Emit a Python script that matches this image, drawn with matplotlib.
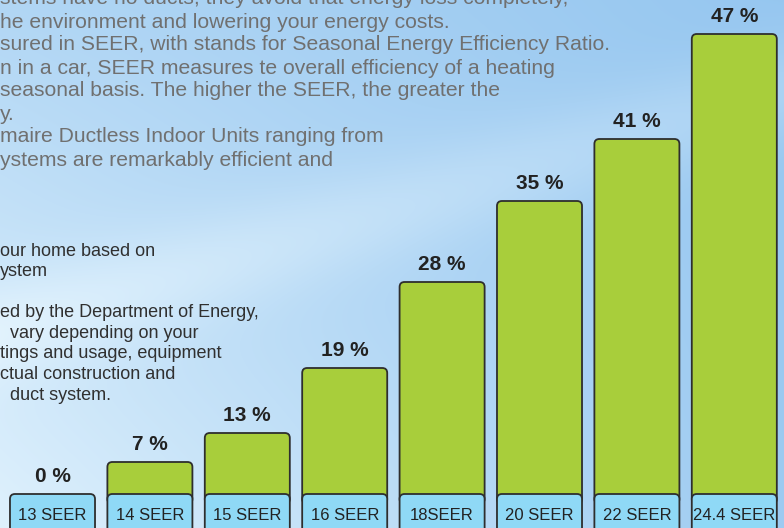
import numpy as np
import matplotlib
matplotlib.use("Agg")
import matplotlib.pyplot as plt
from matplotlib.patches import FancyBboxPatch

# ---- data ----
categories = ["13 SEER", "14 SEER", "15 SEER", "16 SEER", "18SEER", "20 SEER", "22 SEER", "24.4 SEER"]
savings_labels = ["0 %", "7 %", "13 %", "19 %", "28 %", "35 %", "41 %", "47 %"]
# drawn bar heights as they appear in the picture (graphic is not to scale)
bar_heights = [0.0, 3.2, 6.1, 12.6, 21.2, 29.3, 35.5, 46.0]

para1 = [
    "stems have no ducts, they avoid that energy loss completely,",
    "he environment and lowering your energy costs.",
    "sured in SEER, with stands for Seasonal Energy Efficiency Ratio.",
    "n in a car, SEER measures te overall efficiency of a heating",
    "seasonal basis. The higher the SEER, the greater the",
    "y.",
    "maire Ductless Indoor Units ranging from",
    "ystems are remarkably efficient and",
]
para2 = [
    "our home based on",
    "ystem",
    "",
    "ed by the Department of Energy,",
    "  vary depending on your",
    "tings and usage, equipment",
    "ctual construction and",
    "  duct system.",
]

W, H = 784, 528
fig = plt.figure(figsize=(W / 100, H / 100), dpi=100)

# ---- background ----
bg = fig.add_axes([0, 0, 1, 1])
bg.set_axis_off()
yy, xx = np.mgrid[0:H, 0:W]
xn = xx / W
yn = yy / H
t = 0.48 + 0.25 * xn - 0.42 * yn + 0.35 * xn * yn
band = np.exp(-((yn - (0.62 - 0.45 * xn)) / 0.10) ** 2)
t = t - 0.18 * band
t = np.clip(t, 0, 1)[..., None]
light = np.array([0.90, 0.96, 0.995])
blue = np.array([0.47, 0.71, 0.92])
img = light * (1 - t) + blue * t
bg.imshow(img, extent=[0, W, H, 0], aspect="auto", interpolation="bilinear")
bg.set_xlim(0, W)
bg.set_ylim(H, 0)

for i, line in enumerate(para1):
    bg.text(0, -1 + 23.0 * i, line, fontsize=15.2, color="#707070",
            family="Liberation Sans", va="center", ha="left")
for i, line in enumerate(para2):
    bg.text(0, 251 + 20.6 * i, line, fontsize=13.0, color="#303030",
            family="Liberation Sans", va="center", ha="left")

# ---- bar chart ----
ax = fig.add_axes([0, 0, 1, 1], facecolor="none")
ax.set_axis_off()
step = 97.4
x0 = 52.5
ax.set_xlim(-x0 / step, (W - x0) / step)
ypx = 10.0
base = 494
ax.set_ylim(-(H - base) / ypx, base / ypx)

x = np.arange(len(categories))
bars = ax.bar(x, bar_heights, width=0.873, color="none", edgecolor="none")

green = "#a8ce3b"
boxblue = "#8fd9f6"
edge = "#2e2e2e"
r_x = 5 / step
asp = (5 / ypx) / r_x
for b, cat, lab in zip(bars, categories, savings_labels):
    bx, bw, h = b.get_x(), b.get_width(), b.get_height()
    if h > 0:
        p = FancyBboxPatch((bx, -1.0), bw, h + 1.0,
                           boxstyle=f"round,pad=0,rounding_size={r_x}",
                           mutation_aspect=asp, facecolor=green,
                           edgecolor=edge, linewidth=1.3, zorder=2)
        ax.add_patch(p)
    box = FancyBboxPatch((bx, -5.0), bw, 5.0,
                         boxstyle=f"round,pad=0,rounding_size={r_x}",
                         mutation_aspect=asp, facecolor=boxblue,
                         edgecolor=edge, linewidth=1.3, zorder=3)
    ax.add_patch(box)
    ax.text(bx + bw / 2, -2.1, cat, ha="center", va="center", fontsize=12,
            color="#222222", family="Liberation Sans", zorder=4)
    ax.text(bx + bw / 2, h + 1.75, lab, ha="center", va="center", fontsize=15,
            fontweight="bold", color="#222222", family="Liberation Sans", zorder=4)

fig.savefig("out.png", dpi=100)
